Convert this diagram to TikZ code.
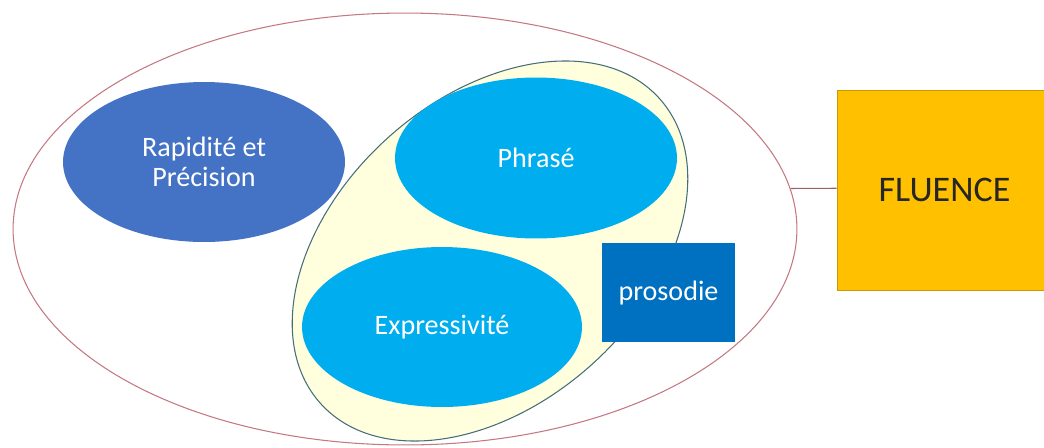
\documentclass[tikz,border=0pt]{standalone}
\usepackage{fontspec}
\setmainfont{Carlito}
\usepackage{tikz}
\usetikzlibrary{shapes.geometric}

\definecolor{rapidblue}{RGB}{68,114,196}
\definecolor{skyblue}{RGB}{0,174,239}
\definecolor{prosblue}{RGB}{0,112,192}
\definecolor{fluenceyellow}{RGB}{255,192,0}
\definecolor{creamfill}{RGB}{255,255,222}
\definecolor{creamline}{RGB}{70,110,120}
\definecolor{outerline}{RGB}{196,120,130}

\begin{document}
\begin{tikzpicture}[x=0.02cm, y=-0.02cm,
    bubble/.style={ellipse, text=white, align=center,
        font=\fontsize{16}{17}\selectfont, inner sep=0pt},
    label box/.style={rectangle, inner sep=0pt, align=center,
        font=\fontsize{16}{17}\selectfont}]

        \useasboundingbox (0,0) rectangle (1044,447);

        % grand ensemble
        \node[ellipse, draw=outerline, line width=0.6pt, fill=white,
            minimum width=15.68cm, minimum height=8.64cm] (outer) at (405,229) {};

        % zone prosodie
        \node[ellipse, draw=creamline, line width=0.6pt, fill=creamfill,
            minimum width=9.12cm, minimum height=6.1cm, rotate=42] (cream) at (490,251) {};

        \node[bubble, fill=rapidblue, minimum width=5.64cm, minimum height=3.2cm]
            (rapid) at (204,162) {Rapidité et\\Précision};
        \node[bubble, fill=skyblue, minimum width=5.64cm, minimum height=3.22cm]
            (phrase) at (536,158) {Phrasé};
        \node[bubble, fill=skyblue, minimum width=5.6cm, minimum height=3.2cm]
            (express) at (442,327) {Expressivité};

        \node[label box, fill=prosblue, text=white,
            minimum width=2.66cm, minimum height=1.98cm] (prosodie) at (668.5,292.5) {prosodie};

        \node[label box, fill=fluenceyellow, draw=fluenceyellow!80!black, line width=0.5pt,
            text=black!85, font=\fontsize{20.5}{22}\selectfont,
            minimum width=4.3cm, minimum height=4cm] (fluence) at (944.5,190) {FLUENCE};

        \draw[outerline!80!black, line width=0.6pt] (outer.6) -- ([yshift=1pt]fluence.west);
    \end{tikzpicture}
\end{document}
